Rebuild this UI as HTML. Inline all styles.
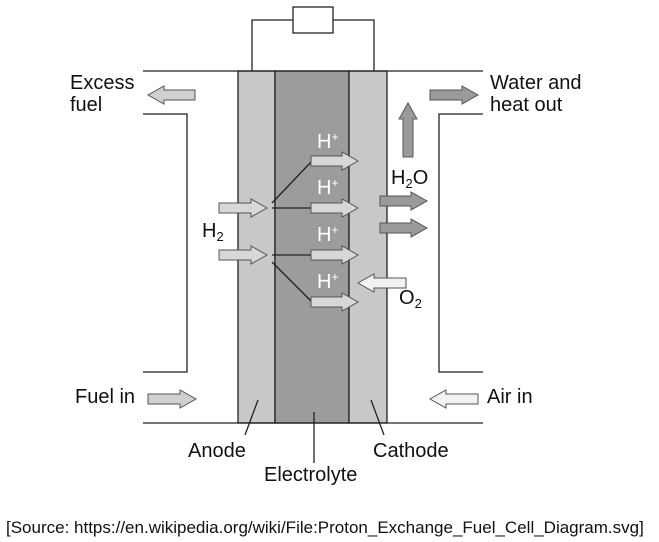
<!DOCTYPE html>
<html><head><meta charset="utf-8"><style>
body{margin:0;background:#fff;}
svg{display:block;font-family:"Liberation Sans",Arial,sans-serif;}
</style></head><body>
<svg id="d" width="659" height="542" viewBox="0 0 659 542">
<g fill="none" stroke="#222" stroke-width="1.3">
<polyline points="252,71 252,20 293,20"/><polyline points="333,20 374,20 374,71"/>
<rect x="293" y="7" width="40" height="26"/>
</g>
<rect x="238" y="71" width="37" height="352" fill="#c8c8c8" stroke="#222" stroke-width="1.3"/>
<rect x="275" y="71" width="74" height="352" fill="#9c9c9c" stroke="#222" stroke-width="1.3"/>
<rect x="349" y="71" width="38" height="352" fill="#c8c8c8" stroke="#222" stroke-width="1.3"/>
<g fill="none" stroke="#222" stroke-width="1.3">
<line x1="143" y1="71" x2="483" y2="71"/><line x1="143" y1="423" x2="483" y2="423"/>
<polyline points="143,114 187,114 187,372 143,372"/>
<polyline points="483,114 439,114 439,372 483,372"/>
<line x1="272" y1="203" x2="312" y2="161"/><line x1="272" y1="208" x2="312" y2="208"/>
<line x1="272" y1="255" x2="312" y2="255"/><line x1="272" y1="262" x2="312" y2="302"/>
<line x1="258" y1="400" x2="245" y2="435"/><line x1="314" y1="412" x2="314" y2="463"/>
<line x1="371" y1="400" x2="384" y2="435"/>
</g>
<g id="arrows"></g>
<g font-size="20" fill="#111">
<text x="70" y="89">Excess</text>
<text x="70" y="111">fuel</text>
<text x="490" y="89">Water and</text>
<text x="490" y="111">heat out</text>
<text x="75" y="403">Fuel in</text>
<text x="487" y="403">Air in</text>
<text x="188" y="457">Anode</text>
<text x="264" y="481">Electrolyte</text>
<text x="373" y="457">Cathode</text>
<text x="391" y="184">H<tspan font-size="13" dy="4">2</tspan><tspan dy="-4">O</tspan></text>
<text x="202" y="237">H<tspan font-size="13" dy="4">2</tspan></text>
<text x="399" y="304">O<tspan font-size="13" dy="4">2</tspan></text>
<g fill="#fff">
<text x="317" y="148">H<tspan font-size="12" dy="-7">+</tspan></text>
<text x="317" y="194">H<tspan font-size="12" dy="-7">+</tspan></text>
<text x="317" y="241">H<tspan font-size="12" dy="-7">+</tspan></text>
<text x="317" y="288">H<tspan font-size="12" dy="-7">+</tspan></text>
</g>
<text x="6" y="533" font-size="17">[Source: https://en.wikipedia.org/wiki/File:Proton_Exchange_Fuel_Cell_Diagram.svg]</text>
</g>
</svg>
<script>
var g=document.getElementById('arrows');
function arrow(x0,x1,yc,dir,fill,name){
  var h=16,s=5,w=9,p;
  if(dir==='r')p=[[x0,yc-s],[x1-h,yc-s],[x1-h,yc-w],[x1,yc],[x1-h,yc+w],[x1-h,yc+s],[x0,yc+s]];
  else p=[[x1,yc-s],[x0+h,yc-s],[x0+h,yc-w],[x0,yc],[x0+h,yc+w],[x0+h,yc+s],[x1,yc+s]];
  var e=document.createElementNS('http://www.w3.org/2000/svg','polygon');
  e.setAttribute('points',p.map(function(q){return q.join(',')}).join(' '));
  e.setAttribute('fill',fill);e.setAttribute('stroke','#555');e.setAttribute('stroke-width','1');
  
  
  g.appendChild(e);
}
arrow(148,195,95,'l','#d0d0d0','excess-fuel-arrow');
arrow(430,478,95,'r','#9a9a9a','water-out-arrow');
arrow(148,196,399,'r','#d0d0d0','fuel-in-arrow');
arrow(430,478,399,'l','#f2f2f2','air-in-arrow');
arrow(219,267,208,'r','#d8d8d8','h2-arrow');
arrow(219,267,255,'r','#d8d8d8','h2-arrow');
[161,208,255,302].forEach(function(y){arrow(311,358,y,'r','#d8d8d8','proton-arrow');});
arrow(380,427,201,'r','#9a9a9a','water-arrow');
arrow(380,427,228,'r','#9a9a9a','water-arrow');
arrow(358,406,283,'l','#f2f2f2','oxygen-arrow');
var u=document.createElementNS('http://www.w3.org/2000/svg','polygon');
u.setAttribute('points','403,157 403,119 399,119 408,103 417,119 413,119 413,157');
u.setAttribute('fill','#9a9a9a');u.setAttribute('stroke','#555');


g.appendChild(u);
</script>
</body></html>
